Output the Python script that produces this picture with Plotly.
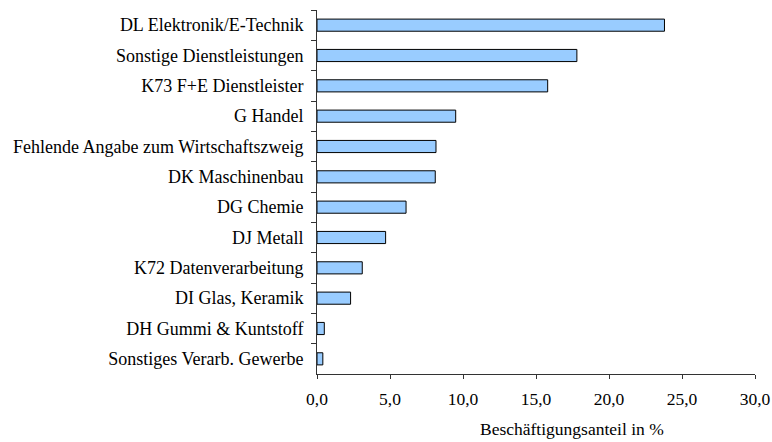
import plotly.graph_objects as go

categories = [
    "DL Elektronik/E-Technik",
    "Sonstige Dienstleistungen",
    "K73 F+E Dienstleister",
    "G Handel",
    "Fehlende Angabe zum Wirtschaftszweig",
    "DK Maschinenbau",
    "DG Chemie",
    "DJ Metall",
    "K72 Datenverarbeitung",
    "DI Glas, Keramik",
    "DH Gummi & Kuntstoff",
    "Sonstiges Verarb. Gewerbe",
]
values = [23.8, 17.8, 15.8, 9.5, 8.15, 8.1, 6.1, 4.7, 3.1, 2.3, 0.5, 0.4]
x_ticks = [0, 5, 10, 15, 20, 25, 30]
x_title = "Beschäftigungsanteil in %"

font_family = "Times New Roman"
font_size = 17.5

fig = go.Figure(
    go.Bar(
        x=values,
        y=categories,
        orientation="h",
        marker=dict(color="#99CCFF", line=dict(color="#000000", width=1)),
        width=0.4,
    )
)

fig.update_layout(
    width=772,
    height=442,
    margin=dict(l=317, r=17, t=10, b=68, autoexpand=False),
    paper_bgcolor="white",
    plot_bgcolor="white",
    separators=",.",
    showlegend=False,
    font=dict(family=font_family, size=font_size, color="#000000"),
)

fig.update_yaxes(
    autorange="reversed",
    categoryorder="array",
    categoryarray=categories,
    showline=True,
    linecolor="#333333",
    linewidth=1,
    ticks="outside",
    ticklen=5,
    tickcolor="#333333",
    tickson="boundaries",
    showgrid=False,
    automargin=False,
    ticklabelstandoff=9,
    tickfont=dict(family=font_family, size=18),
)

fig.update_xaxes(
    range=[0, 30],
    tickvals=x_ticks,
    tickformat=".1f",
    showline=True,
    linecolor="#333333",
    linewidth=1,
    ticks="outside",
    ticklen=4,
    tickcolor="#333333",
    showgrid=False,
    zeroline=False,
    automargin=False,
    ticklabelstandoff=5,
    tickfont=dict(family=font_family, size=font_size),
)

fig.add_annotation(
    text=x_title,
    xref="paper",
    yref="paper",
    x=0.583,
    y=0,
    yshift=-55,
    xanchor="center",
    yanchor="middle",
    showarrow=False,
    font=dict(family=font_family, size=font_size, color="#000000"),
)

fig.write_html(
    "out.html",
    config={"displayModeBar": False},
    post_script="document.body.style.margin='0';document.body.style.padding='0';",
)
